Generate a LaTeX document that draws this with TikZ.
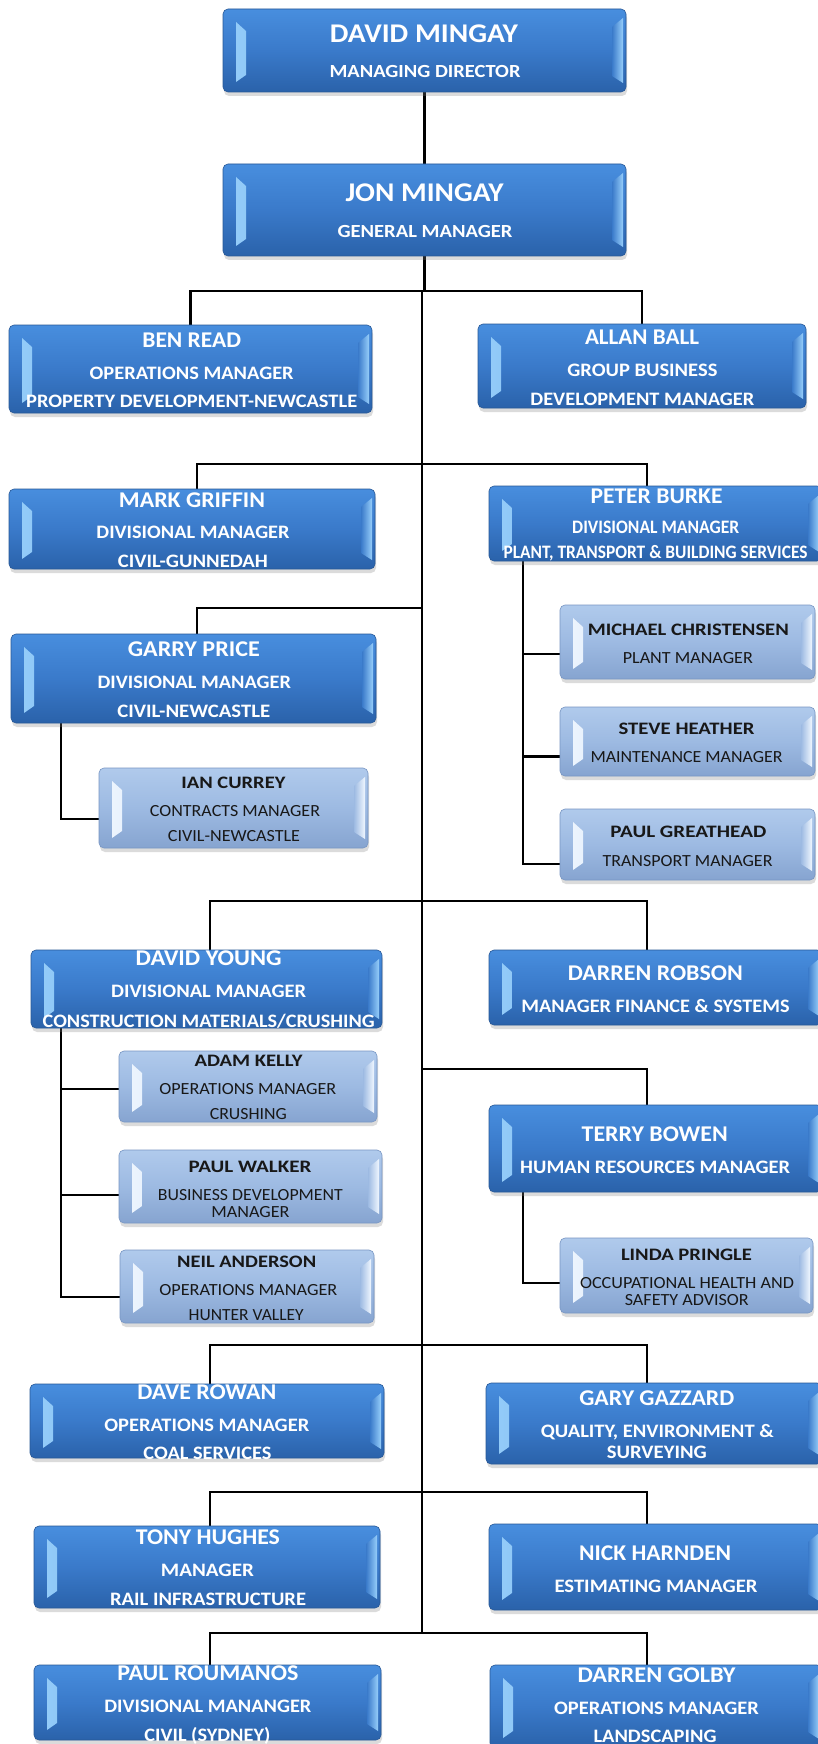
\documentclass[tikz,border=0pt]{standalone}
\usepackage{fontspec}
\setmainfont{Carlito}
\usepackage{graphicx}
\usetikzlibrary{calc,shadows}
\definecolor{dktop}{RGB}{72,142,222}
\definecolor{dkmid}{RGB}{58,122,202}
\definecolor{dkbot}{RGB}{42,98,170}
\definecolor{dkhl}{RGB}{150,206,250}
\definecolor{dkedge}{RGB}{40,88,150}
\definecolor{lttop}{RGB}{176,202,236}
\definecolor{ltmid}{RGB}{157,186,226}
\definecolor{ltbot}{RGB}{134,164,208}
\definecolor{lthl}{RGB}{240,247,255}
\definecolor{ltedge}{RGB}{120,150,195}
\definecolor{txdark}{RGB}{24,24,24}
\pgfdeclarelayer{bg}
\pgfsetlayers{bg,main}
\newcounter{txln}
\newcommand\txl[5]{\stepcounter{txln}\node[#4] (txl\arabic{txln}) at (#1,#2) {\resizebox{#3pt}{\height}{#5}};}
\newcommand\bx[6]{\node[#6, minimum width={(#4-#2)*1pt}, minimum height={(#5-#3)*1pt}] (#1) at ({(#2+#4)/2},{(#3+#5)/2}) {};}
\tikzset{
  bevel/.style 2 args={path picture={
    \shade[sharp corners, left color=#1, right color=#2]
      ($(path picture bounding box.north west)+(13pt,-13pt)$) --
      ($(path picture bounding box.north west)+(23pt,-22pt)$) --
      ($(path picture bounding box.south west)+(23pt,17pt)$) --
      ($(path picture bounding box.south west)+(13pt,10pt)$) -- cycle;
    \shade[sharp corners, left color=#2, right color=#1]
      ($(path picture bounding box.north east)+(-14pt,-18pt)$) --
      ($(path picture bounding box.north east)+(-3pt,-9pt)$) --
      ($(path picture bounding box.south east)+(-3pt,9pt)$) --
      ($(path picture bounding box.south east)+(-14pt,16pt)$) -- cycle;
  }},
  boxbase/.style={rectangle, rounded corners=5pt, inner sep=0pt, outer sep=0pt, line width=0.6pt,
    drop shadow={shadow xshift=1pt, shadow yshift=-4pt, opacity=0.28}},
  dkbox/.style={boxbase, draw=dkedge, top color=dktop, bottom color=dkbot, middle color=dkmid, bevel={dkhl}{dkmid}},
  ltbox/.style={boxbase, draw=ltedge, top color=lttop, bottom color=ltbot, middle color=ltmid, bevel={lthl}{ltmid}},
  txbase/.style={anchor=base, inner sep=0pt, outer sep=0pt},
  nmT/.style={txbase, text=white, font=\bfseries\fontsize{27}{27}\selectfont},
  sbT/.style={txbase, text=white, font=\bfseries\fontsize{18.5}{18.5}\selectfont},
  nm/.style={txbase, text=white, font=\bfseries\fontsize{22.5}{22.5}\selectfont},
  sb/.style={txbase, text=white, font=\bfseries\fontsize{19}{19}\selectfont},
  ln/.style={txbase, text=txdark, font=\bfseries\fontsize{17.5}{17.5}\selectfont},
  ls/.style={txbase, text=txdark, font=\fontsize{17}{17}\selectfont},
  conn/.style={draw=black, line width=2.2pt},
  trunk/.style={draw=black, line width=1.8pt}
}
\begin{document}
\begin{tikzpicture}[x=1pt,y=-1pt]
\useasboundingbox (0,0) rectangle (818,1744);
% boxes
\bx{david}{223}{9}{626}{92}{dkbox}
\bx{jon}{223}{164}{626}{256}{dkbox}
\bx{ben}{9}{325}{372}{413}{dkbox}
\bx{allan}{478}{324}{806}{408}{dkbox}
\bx{mark}{9}{489}{375}{569}{dkbox}
\bx{peter}{489}{486}{822}{561}{dkbox}
\bx{garry}{11}{634}{376}{723}{dkbox}
\bx{ian}{99}{768}{368}{848}{ltbox}
\bx{michael}{560}{605}{815}{679}{ltbox}
\bx{steve}{560}{707}{815}{776}{ltbox}
\bx{paulg}{560}{809}{815}{880}{ltbox}
\bx{davidy}{31}{950}{382}{1028}{dkbox}
\bx{darren}{489}{950}{822}{1025}{dkbox}
\bx{adam}{119}{1051}{377}{1122}{ltbox}
\bx{paulw}{119}{1150}{382}{1223}{ltbox}
\bx{neil}{120}{1250}{374}{1323}{ltbox}
\bx{terry}{489}{1105}{822}{1192}{dkbox}
\bx{linda}{560}{1238}{813}{1313}{ltbox}
\bx{dave}{30}{1384}{384}{1458}{dkbox}
\bx{gary}{486}{1383}{822}{1464}{dkbox}
\bx{tony}{34}{1526}{380}{1608}{dkbox}
\bx{nick}{489}{1524}{822}{1610}{dkbox}
\bx{paulr}{34}{1665}{381}{1740}{dkbox}
\bx{golby}{490}{1665}{822}{1748}{dkbox}
% connectors
\begin{pgfonlayer}{bg}
\fill[white] (0,0) rectangle (818,1744);
\coordinate (b1) at (422,291);
\coordinate (b2) at (422,464);
\coordinate (b3) at (422,608);
\coordinate (b4) at (422,901);
\coordinate (b5) at (422,1069);
\coordinate (b6) at (422,1345);
\coordinate (b7) at (422,1492);
\coordinate (b8) at (422,1633);
\draw[conn, line width=2.5pt] (david.south) -- (jon.north);
\draw[conn, line width=3pt] (jon.south) -- (jon.south |- b1);
\draw[trunk] (b1) -- (b8);
\draw[conn] (ben.north) |- (b1) -| (allan.north);
\draw[conn] ([xshift=5pt]mark.north) |- (b2) -| ([xshift=-8.5pt]peter.north);
\draw[conn] (b3) -| ([xshift=3.5pt]garry.north);
\draw[conn] ([xshift=3.5pt]davidy.north) |- (b4) -| ([xshift=-8.5pt]darren.north);
\draw[conn] (b5) -| ([xshift=-8.5pt]terry.north);
\draw[conn] ([xshift=3pt]dave.north) |- (b6) -| ([xshift=-7pt]gary.north);
\draw[conn] ([xshift=3pt]tony.north) |- (b7) -| ([xshift=-8.5pt]nick.north);
\draw[conn] ([xshift=2.5pt]paulr.north) |- (b8) -| ([xshift=-9pt]golby.north);
% sub-branches
\draw[conn] ([xshift=-132.5pt]garry.south) |- ([yshift=-11pt]ian.west);
\draw[conn] ([xshift=-132.5pt]peter.south) |- ([yshift=-19.5pt]paulg.west);
\coordinate (pl) at (523,700);
\coordinate (mcA) at ([yshift=-12pt]michael.west);
\coordinate (shA) at ([yshift=-15pt]steve.west);
\draw[conn] (mcA) -- (mcA -| pl);
\draw[conn] (shA) -- (shA -| pl);
\draw[conn] ([xshift=-145.5pt]davidy.south) |- ([yshift=-10.5pt]neil.west);
\coordinate (dl) at (61,1100);
\coordinate (akA) at ([yshift=-2.5pt]adam.west);
\coordinate (pwA) at ([yshift=-8.5pt]paulw.west);
\draw[conn] (akA) -- (akA -| dl);
\draw[conn] (pwA) -- (pwA -| dl);
\draw[conn] ([xshift=-132.5pt]terry.south) |- ([yshift=-7.5pt]linda.west);
\end{pgfonlayer}
% texts
\txl{424}{43}{188}{nmT}{DAVID MINGAY}
\txl{425}{78}{191}{sbT}{MANAGING DIRECTOR}
\txl{424.5}{202}{158}{nmT}{JON MINGAY}
\txl{425}{237}{175}{sbT}{GENERAL MANAGER}
\txl{191.7}{347}{98.6}{nm}{BEN READ}
\txl{191.7}{379}{204}{sb}{OPERATIONS MANAGER}
\txl{191.7}{407}{331}{sb}{PROPERTY DEVELOPMENT-NEWCASTLE}
\txl{642}{344}{114}{nm}{ALLAN BALL}
\txl{642.4}{376}{150}{sb}{GROUP BUSINESS}
\txl{642.4}{405}{224}{sb}{DEVELOPMENT MANAGER}
\txl{192}{507}{146}{nm}{MARK GRIFFIN}
\txl{193}{538}{193}{sb}{DIVISIONAL MANAGER}
\txl{193}{567}{150}{sb}{CIVIL-GUNNEDAH}
\txl{656.5}{503}{132}{nm}{PETER BURKE}
\txl{655.7}{533}{167}{sb}{DIVISIONAL MANAGER}
\txl{655.5}{558}{304}{sb}{PLANT, TRANSPORT \& BUILDING SERVICES}
\txl{193.8}{656}{132}{nm}{GARRY PRICE}
\txl{194.3}{688}{193.5}{sb}{DIVISIONAL MANAGER}
\txl{193.8}{717}{153}{sb}{CIVIL-NEWCASTLE}
\txl{233.4}{788}{104}{ln}{IAN CURREY}
\txl{235}{816}{170}{ls}{CONTRACTS MANAGER}
\txl{234}{841}{132}{ls}{CIVIL-NEWCASTLE}
\txl{688.3}{635}{201}{ln}{MICHAEL CHRISTENSEN}
\txl{687.8}{663}{130}{ls}{PLANT MANAGER}
\txl{686.5}{734}{136}{ln}{STEVE HEATHER}
\txl{686.5}{762}{192}{ls}{MAINTENANCE MANAGER}
\txl{688.3}{837}{156}{ln}{PAUL GREATHEAD}
\txl{687.5}{866}{170}{ls}{TRANSPORT MANAGER}
\txl{208.7}{965}{146}{nm}{DAVID YOUNG}
\txl{208.7}{997}{195}{sb}{DIVISIONAL MANAGER}
\txl{208.7}{1027}{332}{sb}{CONSTRUCTION MATERIALS/CRUSHING}
\txl{655.4}{980}{175}{nm}{DARREN ROBSON}
\txl{655.5}{1012}{268}{sb}{MANAGER FINANCE \& SYSTEMS}
\txl{248.6}{1066}{108}{ln}{ADAM KELLY}
\txl{247.8}{1094}{177}{ls}{OPERATIONS MANAGER}
\txl{248.3}{1119}{77}{ls}{CRUSHING}
\txl{250}{1172}{123}{ln}{PAUL WALKER}
\txl{250.4}{1200}{185}{ls}{BUSINESS DEVELOPMENT}
\txl{250.4}{1217}{78}{ls}{MANAGER}
\txl{246.7}{1267}{139}{ln}{NEIL ANDERSON}
\txl{248.3}{1295}{178}{ls}{OPERATIONS MANAGER}
\txl{246.2}{1320}{115}{ls}{HUNTER VALLEY}
\txl{654.7}{1141}{146}{nm}{TERRY BOWEN}
\txl{655.2}{1173}{270}{sb}{HUMAN RESOURCES MANAGER}
\txl{686.5}{1260}{131}{ln}{LINDA PRINGLE}
\txl{687}{1288}{214}{ls}{OCCUPATIONAL HEALTH AND}
\txl{686.8}{1305}{124}{ls}{SAFETY ADVISOR}
\txl{206.8}{1399}{139}{nm}{DAVE ROWAN}
\txl{206.8}{1431}{205}{sb}{OPERATIONS MANAGER}
\txl{207.4}{1459}{128}{sb}{COAL SERVICES}
\txl{656.8}{1405}{155}{nm}{GARY GAZZARD}
\txl{657.3}{1437}{233}{sb}{QUALITY, ENVIRONMENT \&}
\txl{656.8}{1458}{100}{sb}{SURVEYING}
\txl{207.9}{1544}{144}{nm}{TONY HUGHES}
\txl{207.4}{1576}{93}{sb}{MANAGER}
\txl{208.1}{1605}{196}{sb}{RAIL INFRASTRUCTURE}
\txl{655.2}{1560}{152}{nm}{NICK HARNDEN}
\txl{656}{1592}{203}{sb}{ESTIMATING MANAGER}
\txl{207.9}{1680}{181}{nm}{PAUL ROUMANOS}
\txl{207.9}{1712}{207}{sb}{DIVISIONAL MANANGER}
\txl{207.4}{1741}{126}{sb}{CIVIL (SYDNEY)}
\txl{656.5}{1682}{158}{nm}{DARREN GOLBY}
\txl{656.5}{1714}{205}{sb}{OPERATIONS MANAGER}
\txl{655}{1742}{123}{sb}{LANDSCAPING}
\end{tikzpicture}
\end{document}
